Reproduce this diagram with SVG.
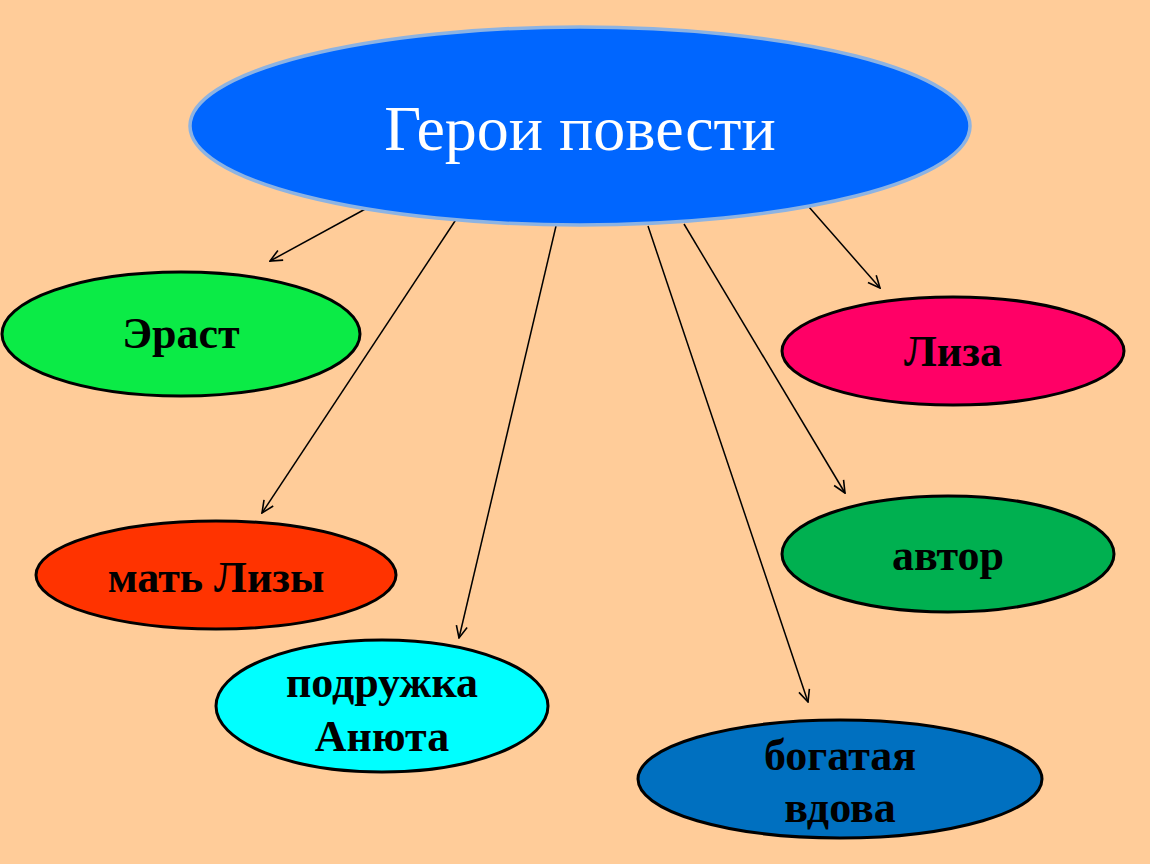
<svg xmlns="http://www.w3.org/2000/svg" width="1150" height="864" viewBox="0 0 1150 864">
<defs>
<style>
.node{stroke:#000;stroke-width:3}
.lbl{font-family:"Liberation Serif","Times New Roman",serif;font-weight:bold;font-size:44px;fill:#000;text-anchor:middle}
.conn line{stroke:#000;stroke-width:1.5;marker-end:url(#arr)}
</style>
<marker id="arr" viewBox="0 0 14 14" refX="13" refY="7" markerWidth="14" markerHeight="14" markerUnits="userSpaceOnUse" orient="auto">
<path d="M1,1.5 L13,7 L1,12.5" fill="none" stroke="#000" stroke-width="1.6"/>
</marker>
</defs>
<rect width="1150" height="864" fill="#FFCC99"/>
<g id="connectors" class="conn">
<line x1="369" y1="207" x2="270" y2="261"/>
<line x1="457" y1="218" x2="262" y2="513"/>
<line x1="556" y1="226" x2="459" y2="638"/>
<line x1="648" y1="226" x2="808" y2="702"/>
<line x1="684" y1="224" x2="845" y2="493"/>
<line x1="809" y1="207" x2="880" y2="288"/>
</g>
<g id="root">
<ellipse cx="580" cy="126" rx="390" ry="99" fill="#0066FF" stroke="#8DB3E2" stroke-width="3.5"/>
<text x="580" y="150" font-family="Liberation Serif,Times New Roman,serif" font-size="64" fill="#fff" text-anchor="middle">Герои повести</text>
</g>
<g id="erast">
<ellipse class="node" cx="181" cy="334" rx="179" ry="62" fill="#0BEB46"/>
<text class="lbl" x="181" y="348">Эраст</text>
</g>
<g id="liza">
<ellipse class="node" cx="953" cy="351" rx="171" ry="54" fill="#FF0066"/>
<text class="lbl" x="953" y="366">Лиза</text>
</g>
<g id="mother">
<ellipse class="node" cx="216" cy="575" rx="180" ry="54" fill="#FF3300"/>
<text class="lbl" x="216" y="592">мать Лизы</text>
</g>
<g id="author">
<ellipse class="node" cx="948" cy="554" rx="166" ry="58" fill="#00B050"/>
<text class="lbl" x="948" y="570">автор</text>
</g>
<g id="anyuta">
<ellipse class="node" cx="382" cy="706" rx="166" ry="66" fill="#00FFFF"/>
<text class="lbl" x="382" y="697">подружка</text>
<text class="lbl" x="382" y="751">Анюта</text>
</g>
<g id="widow">
<ellipse class="node" cx="840" cy="779" rx="202" ry="59" fill="#0070C0"/>
<text class="lbl" x="840" y="770">богатая</text>
<text class="lbl" x="840" y="822">вдова</text>
</g>
</svg>
